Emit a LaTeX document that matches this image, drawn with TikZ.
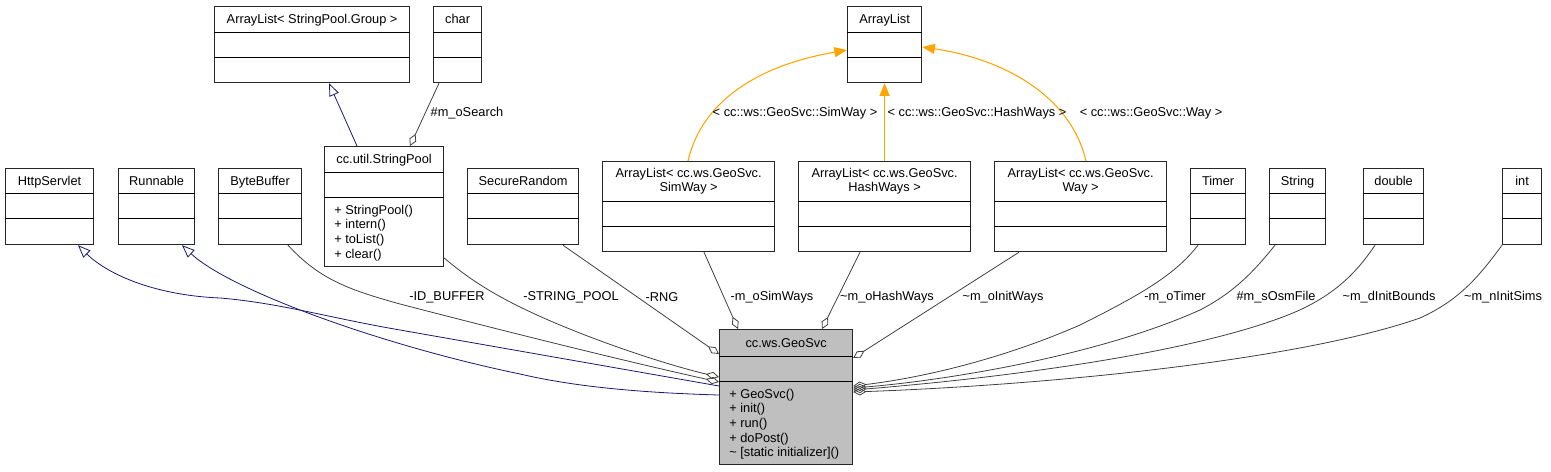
\documentclass[tikz,border=0pt]{standalone}
\usepackage{fontspec}
\setmainfont{Liberation Sans}
\usetikzlibrary{arrows.meta,calc}

\definecolor{inheritblue}{HTML}{191970}
\definecolor{templorange}{HTML}{FFA500}
\definecolor{usegray}{HTML}{404040}
\definecolor{selfgray}{HTML}{BFBFBF}

\tikzset{
  cls/.style={draw=black!85, line width=0.9pt, inner sep=0pt},
  sep/.style={draw=black, line width=0.6pt},
  ttl/.style={font=\fontsize{9.6}{10.7}\selectfont, align=center, inner sep=0pt},
  ops/.style={font=\fontsize{9.6}{11}\selectfont, align=left, inner sep=0pt, anchor=north west},
  lbl/.style={font=\fontsize{9.6}{11}\selectfont, inner sep=0pt},
  inherit/.style={draw=inheritblue, line width=0.6pt, {Triangle[open,length=9.5pt,width=7.5pt]}-},
  templ/.style={draw=templorange, line width=0.8pt, -{Triangle[length=9.5pt,width=7.5pt]}},
  aggr/.style={draw=usegray, line width=0.6pt, -{Diamond[open,length=10pt,width=5.5pt]}},
}

% #1 options, #2 name, #3 top left, #4 width, #5 height, #6 title height, #7 title, #8 operations
\newcommand{\umlclass}[8][]{%
  \node[cls, #1, anchor=north west, minimum width=#4*0.75pt, minimum height=#5*0.75pt] (#2) at (#3) {};
  \draw[sep] ($(#2.north west)+(0,#6)$) -- ($(#2.north east)+(0,#6)$);
  \draw[sep] ($(#2.north west)+(0,#6+25)$) -- ($(#2.north east)+(0,#6+25)$);
  \ifnum#6>30
    \node[ttl] (#2-title) at ($(#2.north)+(0,#6/2)$) {#7};
  \else
    \node[ttl, anchor=base] (#2-title) at ($(#2.north)+(0,#6/2+4.6)$) {#7};
  \fi
  \node[ops] (#2-ops) at ($(#2.north west)+(10,#6+32.5)$) {#8};
}

\begin{document}
\begin{tikzpicture}[x=0.75pt, y=-0.75pt]
\useasboundingbox (0,0) rectangle (1551,471);

% classes
\umlclass{agroup}{214,6}{195}{76}{26}{ArrayList< StringPool.Group >}{}
\umlclass{char}{433,6}{48}{76}{26}{char}{}
\umlclass{arraylist}{847,6}{74}{76}{26}{ArrayList}{}
\umlclass{httpservlet}{5,168}{88}{76}{25}{HttpServlet}{}
\umlclass{runnable}{118,168}{76}{76}{25}{Runnable}{}
\umlclass{bytebuffer}{218,168}{83}{76}{25}{ByteBuffer}{}
\umlclass{stringpool}{324,146}{119}{120}{26}{cc.util.StringPool}{+ StringPool()\\+ intern()\\+ toList()\\+ clear()}
\umlclass{securerandom}{467,168}{111}{76}{25}{SecureRandom}{}
\umlclass{simway}{602,161}{172}{90}{40}{ArrayList< cc.ws.GeoSvc.\\SimWay >}{}
\umlclass{hashways}{798,161}{172}{90}{40}{ArrayList< cc.ws.GeoSvc.\\HashWays >}{}
\umlclass{way}{994,161}{172}{90}{40}{ArrayList< cc.ws.GeoSvc.\\Way >}{}
\umlclass{timer}{1190,168}{55}{76}{25}{Timer}{}
\umlclass{string}{1269,168}{56}{76}{25}{String}{}
\umlclass{double}{1363,168}{60}{76}{25}{double}{}
\umlclass{int}{1502,168}{39}{76}{25}{int}{}
\umlclass[fill=selfgray]{geosvc}{719,329}{133}{135}{27}{cc.ws.GeoSvc}{+ GeoSvc()\\+ init()\\+ run()\\+ doPost()\\\textasciitilde{} [static initializer]()}

% generalization
\draw[inherit] ($(httpservlet.south west)+(73,0)$) .. controls (105,272) and (150,295) .. (220,298)
  .. controls (280,303) and (330,318) .. (400,330) -- ($(geosvc.north west)+(0,57)$);
\draw[inherit] ($(runnable.south west)+(64,0)$) .. controls (230,290) and (380,345) .. (520,374)
  .. controls (580,388) and (650,393) .. ($(geosvc.north west)+(0,66)$);
\draw[inherit] ($(agroup.south west)+(115,0)$) -- ($(stringpool.north west)+(33,0)$);

% template instances
\draw[templ] ($(simway.north west)+(86,0)$) .. controls (702,100) and (760,65) .. ($(arraylist.north west)+(0,44)$);
\draw[templ] (hashways.north) -- (arraylist.south);
\draw[templ] ($(way.north west)+(92,0)$) .. controls (1072,100) and (1010,60) .. ($(arraylist.north east)+(0,41)$);

% aggregation
\draw[aggr] ($(char.south west)+(6,0)$) -- ($(stringpool.north west)+(86,0)$);
\draw[aggr] ($(bytebuffer.south west)+(70,0)$) .. controls (320,280) and (350,290) .. (400,304)
  .. controls (500,330) and (620,360) .. ($(geosvc.north west)+(0,53)$);
\draw[aggr] ($(stringpool.north east)+(0,112)$) .. controls (470,280) and (500,300) .. (560,325)
  .. controls (620,350) and (680,368) .. ($(geosvc.north west)+(0,48)$);
\draw[aggr] ($(securerandom.south west)+(96,0)$) -- ($(geosvc.north west)+(0,25)$);
\draw[aggr] ($(simway.south west)+(102,0)$) -- ($(geosvc.north west)+(19,0)$);
\draw[aggr] ($(hashways.south west)+(62,0)$) -- ($(geosvc.north west)+(103,0)$);
\draw[aggr] ($(way.south west)+(25,0)$) -- ($(geosvc.north east)+(0,29)$);
\draw[aggr] ($(timer.south west)+(8,0)$) .. controls (1175,275) and (1140,295) .. (1080,325)
  .. controls (1000,360) and (920,378) .. ($(geosvc.north east)+(0,57)$);
\draw[aggr] ($(string.south west)+(6,0)$) .. controls (1255,270) and (1235,292) .. (1200,310)
  .. controls (1100,355) and (950,380) .. ($(geosvc.north east)+(0,59)$);
\draw[aggr] ($(double.south west)+(12,0)$) .. controls (1355,275) and (1330,300) .. (1280,318)
  .. controls (1180,355) and (1000,378) .. ($(geosvc.north east)+(0,61)$);
\draw[aggr] (int.south west) .. controls (1480,275) and (1460,300) .. (1420,318)
  .. controls (1300,360) and (1050,385) .. ($(geosvc.north east)+(0,63)$);

% labels
\node[lbl] (l-search) at (467,113) {\#m\_oSearch};
\node[lbl] (l-simway) at (795,113) {< cc::ws::GeoSvc::SimWay >};
\node[lbl] (l-hashways) at (977,113) {< cc::ws::GeoSvc::HashWays >};
\node[lbl] (l-way) at (1151,113) {< cc::ws::GeoSvc::Way >};
\node[lbl] (l-idbuf) at (447,297) {-ID\_BUFFER};
\node[lbl] (l-pool) at (571,297) {-STRING\_POOL};
\node[lbl] (l-rng) at (662,297) {-RNG};
\node[lbl] (l-simways) at (772,297) {-m\_oSimWays};
\node[lbl] (l-hash) at (887,297) {\textasciitilde m\_oHashWays};
\node[lbl] (l-init) at (1003,297) {\textasciitilde m\_oInitWays};
\node[lbl] (l-timer) at (1175,297) {-m\_oTimer};
\node[lbl] (l-osm) at (1276,297) {\#m\_sOsmFile};
\node[lbl] (l-bounds) at (1389,297) {\textasciitilde m\_dInitBounds};
\node[lbl] (l-sims) at (1503,297) {\textasciitilde m\_nInitSims};
\end{tikzpicture}
\end{document}
